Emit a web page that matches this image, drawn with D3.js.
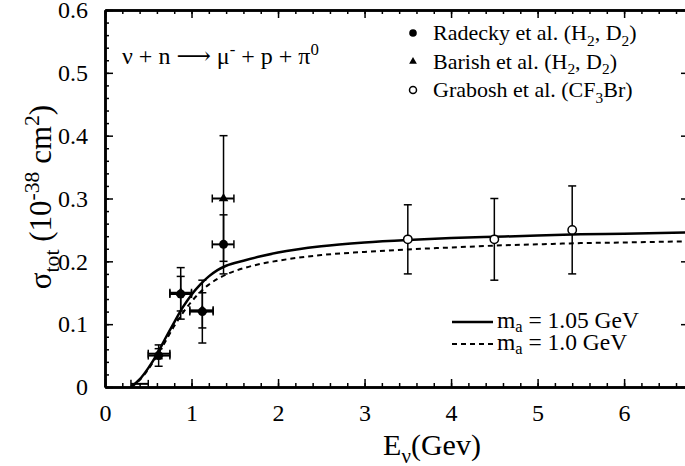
<!DOCTYPE html>
<html>
<head>
<meta charset="utf-8">
<script src="https://cdn.jsdelivr.net/npm/d3@7"></script>
<style>
  body { margin: 0; background: #fff; }
  svg { display: block; }
</style>
</head>
<body>
<svg id="chart" width="685" height="466"></svg>
<script>
// ---- data ----
const xTicks = [0, 1, 2, 3, 4, 5, 6]
const yTicks = [0, 0.1, 0.2, 0.3, 0.4, 0.5, 0.6]

// Radecky et al. (filled circles)
const radecky = [
  { e: 0.62,  s: 0.050, eLo: 0.50, eHi: 0.75, sLo: 0.033, sHi: 0.067 },
  { e: 0.875, s: 0.148, eLo: 0.75, eHi: 1.00, sLo: 0.108, sHi: 0.190 },
  { e: 1.125, s: 0.120, eLo: 0.98, eHi: 1.25, sLo: 0.070, sHi: 0.170 },
  { e: 1.37,  s: 0.227, eLo: 1.24, eHi: 1.49, sLo: 0.180, sHi: 0.274 }
]
// low-energy bin, only its bar shows
const radeckyLow = [
  { e: 0.40, s: 0.005, eLo: 0.30, eHi: 0.50 }
]
// Barish et al. (filled triangles)
const barish = [
  { e: 0.62,  s: 0.053, eLo: 0.50, eHi: 0.75, sLo: 0.045, sHi: 0.061 },
  { e: 0.875, s: 0.150, eLo: 0.75, eHi: 1.00, sLo: 0.121, sHi: 0.176 },
  { e: 1.125, s: 0.122, eLo: 0.98, eHi: 1.25, sLo: 0.094, sHi: 0.150 },
  { e: 1.37,  s: 0.300, eLo: 1.24, eHi: 1.49, sLo: 0.200, sHi: 0.400 }
]
// Grabosh et al. (open circles)
const grabosh = [
  { e: 3.5, s: 0.235, sLo: 0.180, sHi: 0.290 },
  { e: 4.5, s: 0.235, sLo: 0.170, sHi: 0.300 },
  { e: 5.4, s: 0.250, sLo: 0.180, sHi: 0.320 }
]

// model curves
const curveMa105 = [
  [0.30, 0], [0.40, 0.012], [0.50, 0.030], [0.60, 0.052], [0.70, 0.078], [0.80, 0.103],
  [0.90, 0.127], [1.00, 0.147], [1.10, 0.163], [1.20, 0.176], [1.30, 0.186], [1.40, 0.193],
  [1.60, 0.201], [1.80, 0.208], [2.00, 0.214], [2.50, 0.224], [3.00, 0.230], [3.50, 0.234],
  [4.00, 0.237], [4.50, 0.239], [5.00, 0.241], [5.50, 0.243], [6.00, 0.244], [6.75, 0.246]
]
const curveMa100 = [
  [0.30, 0], [0.40, 0.011], [0.50, 0.028], [0.60, 0.050], [0.70, 0.073], [0.80, 0.097],
  [0.90, 0.118], [1.00, 0.136], [1.10, 0.151], [1.20, 0.163], [1.30, 0.172], [1.40, 0.179],
  [1.60, 0.189], [1.80, 0.196], [2.00, 0.201], [2.50, 0.210], [3.00, 0.215], [3.50, 0.219],
  [4.00, 0.222], [4.50, 0.225], [5.00, 0.227], [5.50, 0.229], [6.00, 0.230], [6.75, 0.232]
]

// ---- layout ----
const FONT = '"Liberation Serif", "Times New Roman", Times, "DejaVu Serif", serif'
const svg = d3.select('#chart').attr('font-family', FONT)
const mLeft = 105, mRight = 689, mTop = 10, mBottom = 387

const x = d3.scaleLinear().domain([0, 6.75]).range([mLeft, mRight])
const y = d3.scaleLinear().domain([0, 0.6]).range([mBottom, mTop])

// rich text helper: parts = [[text, 'sub'|'sup'|undefined], ...]
function rich(sel, parts, size, subShift = 0.25) {
  sel.attr('font-family', FONT).attr('fill', '#000')
  let shift = 0
  parts.forEach(([t, k]) => {
    let target = k === 'sub' ? size * subShift : k === 'sup' ? -size * 0.38 : 0
    sel.append('tspan')
      .attr('dy', target - shift)
      .attr('font-size', (k ? size * 0.7 : size) + 'px')
      .text(t)
    shift = target
  })
}

// axes
const minorX = d3.range(0, 6.75, 0.2)
const minorY = d3.range(0, 0.601, 0.02)

function styleAxis(g) {
  g.attr('font-family', FONT).attr('font-size', 24)
  g.select('.domain').attr('stroke', '#000').attr('stroke-width', 2.5)
  g.selectAll('.tick line').attr('stroke', '#000').attr('stroke-width', 1.5)
  g.selectAll('.tick text').attr('fill', '#000')
}

// minor ticks first
svg.append('g').attr('transform', `translate(0,${mBottom})`)
  .call(d3.axisBottom(x).tickValues(minorX).tickSize(-4).tickSizeOuter(0).tickFormat(''))
  .call(styleAxis)
svg.append('g').attr('transform', `translate(0,${mTop})`)
  .call(d3.axisTop(x).tickValues(minorX).tickSize(-4).tickSizeOuter(0).tickFormat(''))
  .call(styleAxis)
svg.append('g').attr('transform', `translate(${mLeft},0)`)
  .call(d3.axisLeft(y).tickValues(minorY).tickSize(-4).tickSizeOuter(0).tickFormat(''))
  .call(styleAxis)
svg.append('g').attr('transform', `translate(${mRight},0)`)
  .call(d3.axisRight(y).tickValues(minorY).tickSize(-4).tickSizeOuter(0).tickFormat(''))
  .call(styleAxis)

// major ticks with labels
svg.append('g').attr('transform', `translate(0,${mBottom})`)
  .call(d3.axisBottom(x).tickValues(xTicks).tickSize(-8).tickSizeOuter(0).tickPadding(17).tickFormat(d3.format('d')))
  .call(styleAxis)
svg.append('g').attr('transform', `translate(0,${mTop})`)
  .call(d3.axisTop(x).tickValues(xTicks).tickSize(-8).tickSizeOuter(0).tickFormat(''))
  .call(styleAxis)
svg.append('g').attr('transform', `translate(${mLeft},0)`)
  .call(d3.axisLeft(y).tickValues(yTicks).tickSize(-8).tickSizeOuter(0).tickPadding(17)
    .tickFormat(d => d === 0 ? '0' : d3.format('.1f')(d)))
  .call(styleAxis)
svg.append('g').attr('transform', `translate(${mRight},0)`)
  .call(d3.axisRight(y).tickValues(yTicks).tickSize(-8).tickSizeOuter(0).tickFormat(''))
  .call(styleAxis)

// curves
const line = d3.line().x(d => x(d[0])).y(d => y(d[1])).curve(d3.curveMonotoneX)
svg.append('path').datum(curveMa100)
  .attr('d', line).attr('fill', 'none').attr('stroke', '#000')
  .attr('stroke-width', 2).attr('stroke-dasharray', '5,4')
svg.append('path').datum(curveMa105)
  .attr('d', line).attr('fill', 'none').attr('stroke', '#000').attr('stroke-width', 2.5)

// error bars
const cap = 4
function errorBars(data, withX) {
  const g = svg.append('g').attr('stroke', '#000').attr('stroke-width', 1.5)
  data.forEach(d => {
    if (d.sLo !== undefined) {
      g.append('line').attr('x1', x(d.e)).attr('x2', x(d.e)).attr('y1', y(d.sLo)).attr('y2', y(d.sHi))
      g.append('line').attr('x1', x(d.e) - cap).attr('x2', x(d.e) + cap).attr('y1', y(d.sLo)).attr('y2', y(d.sLo))
      g.append('line').attr('x1', x(d.e) - cap).attr('x2', x(d.e) + cap).attr('y1', y(d.sHi)).attr('y2', y(d.sHi))
    }
    if (withX) {
      g.append('line').attr('x1', x(d.eLo)).attr('x2', x(d.eHi)).attr('y1', y(d.s)).attr('y2', y(d.s)).attr('stroke-width', 2)
      g.append('line').attr('x1', x(d.eLo)).attr('x2', x(d.eLo)).attr('y1', y(d.s) - cap).attr('y2', y(d.s) + cap)
      g.append('line').attr('x1', x(d.eHi)).attr('x2', x(d.eHi)).attr('y1', y(d.s) - cap).attr('y2', y(d.s) + cap)
    }
  })
}
errorBars(barish, true)
errorBars(radecky, true)
errorBars(radeckyLow, true)
errorBars(grabosh, false)

// markers
const tri = d3.symbol().type(d3.symbolTriangle).size(40)
svg.append('g').selectAll('path').data(barish).join('path')
  .attr('d', tri).attr('transform', d => `translate(${x(d.e)},${y(d.s)})`).attr('fill', '#000')
svg.append('g').selectAll('circle').data(radecky).join('circle')
  .attr('cx', d => x(d.e)).attr('cy', d => y(d.s)).attr('r', 4.5).attr('fill', '#000')
svg.append('g').selectAll('circle').data(grabosh).join('circle')
  .attr('cx', d => x(d.e)).attr('cy', d => y(d.s)).attr('r', 4.2)
  .attr('fill', '#fff').attr('stroke', '#000').attr('stroke-width', 1.5)

// axis titles
svg.append('text').attr('x', 432).attr('y', 455).attr('text-anchor', 'middle')
  .call(rich, [['E'], ['ν', 'sub'], ['(Gev)']], 30)
svg.append('text').attr('transform', 'translate(51,197) rotate(-90)').attr('text-anchor', 'middle')
  .call(rich, [['σ'], ['tot', 'sub'], [' (10'], ['-38', 'sup'], [' cm'], ['2', 'sup'], [')']], 31)

// reaction
svg.append('text').attr('x', 122).attr('y', 64)
  .call(rich, [['ν + n ⟶ μ'], ['-', 'sup'], [' + p + π'], ['0', 'sup']], 24)

// legend (data sets)
const legendRows = [
  { kind: 'dot', parts: [['Radecky et al. (H'], ['2', 'sub'], [', D'], ['2', 'sub'], [')']] },
  { kind: 'tri', parts: [['Barish et al. (H'], ['2', 'sub'], [', D'], ['2', 'sub'], [')']] },
  { kind: 'open', parts: [['Grabosh et al. (CF'], ['3', 'sub'], ['Br)']] }
]
legendRows.forEach((r, i) => {
  const cy = 33 + i * 28.5
  if (r.kind === 'dot') svg.append('circle').attr('cx', 413).attr('cy', cy).attr('r', 3.8).attr('fill', '#000')
  if (r.kind === 'tri') svg.append('path').attr('d', d3.symbol().type(d3.symbolTriangle).size(26))
    .attr('transform', `translate(413,${cy})`).attr('fill', '#000')
  if (r.kind === 'open') svg.append('circle').attr('cx', 413).attr('cy', cy).attr('r', 3.5)
    .attr('fill', '#fff').attr('stroke', '#000').attr('stroke-width', 1.5)
  svg.append('text').attr('x', 433).attr('y', cy + 7).call(rich, r.parts, 22)
})

// legend (curves)
const curveLegend = [
  { dash: null, w: 2.5, parts: [['m'], ['a', 'sub'], [' = 1.05 GeV']] },
  { dash: '5,4', w: 2, parts: [['m'], ['a', 'sub'], [' = 1.0 GeV']] }
]
curveLegend.forEach((r, i) => {
  const cy = 322 + i * 22
  svg.append('line').attr('x1', 452).attr('x2', 493).attr('y1', cy).attr('y2', cy)
    .attr('stroke', '#000').attr('stroke-width', r.w).attr('stroke-dasharray', r.dash)
  svg.append('text').attr('x', 497).attr('y', cy + 6).call(rich, r.parts, 23.5, 0.18)
})
</script>
</body>
</html>
